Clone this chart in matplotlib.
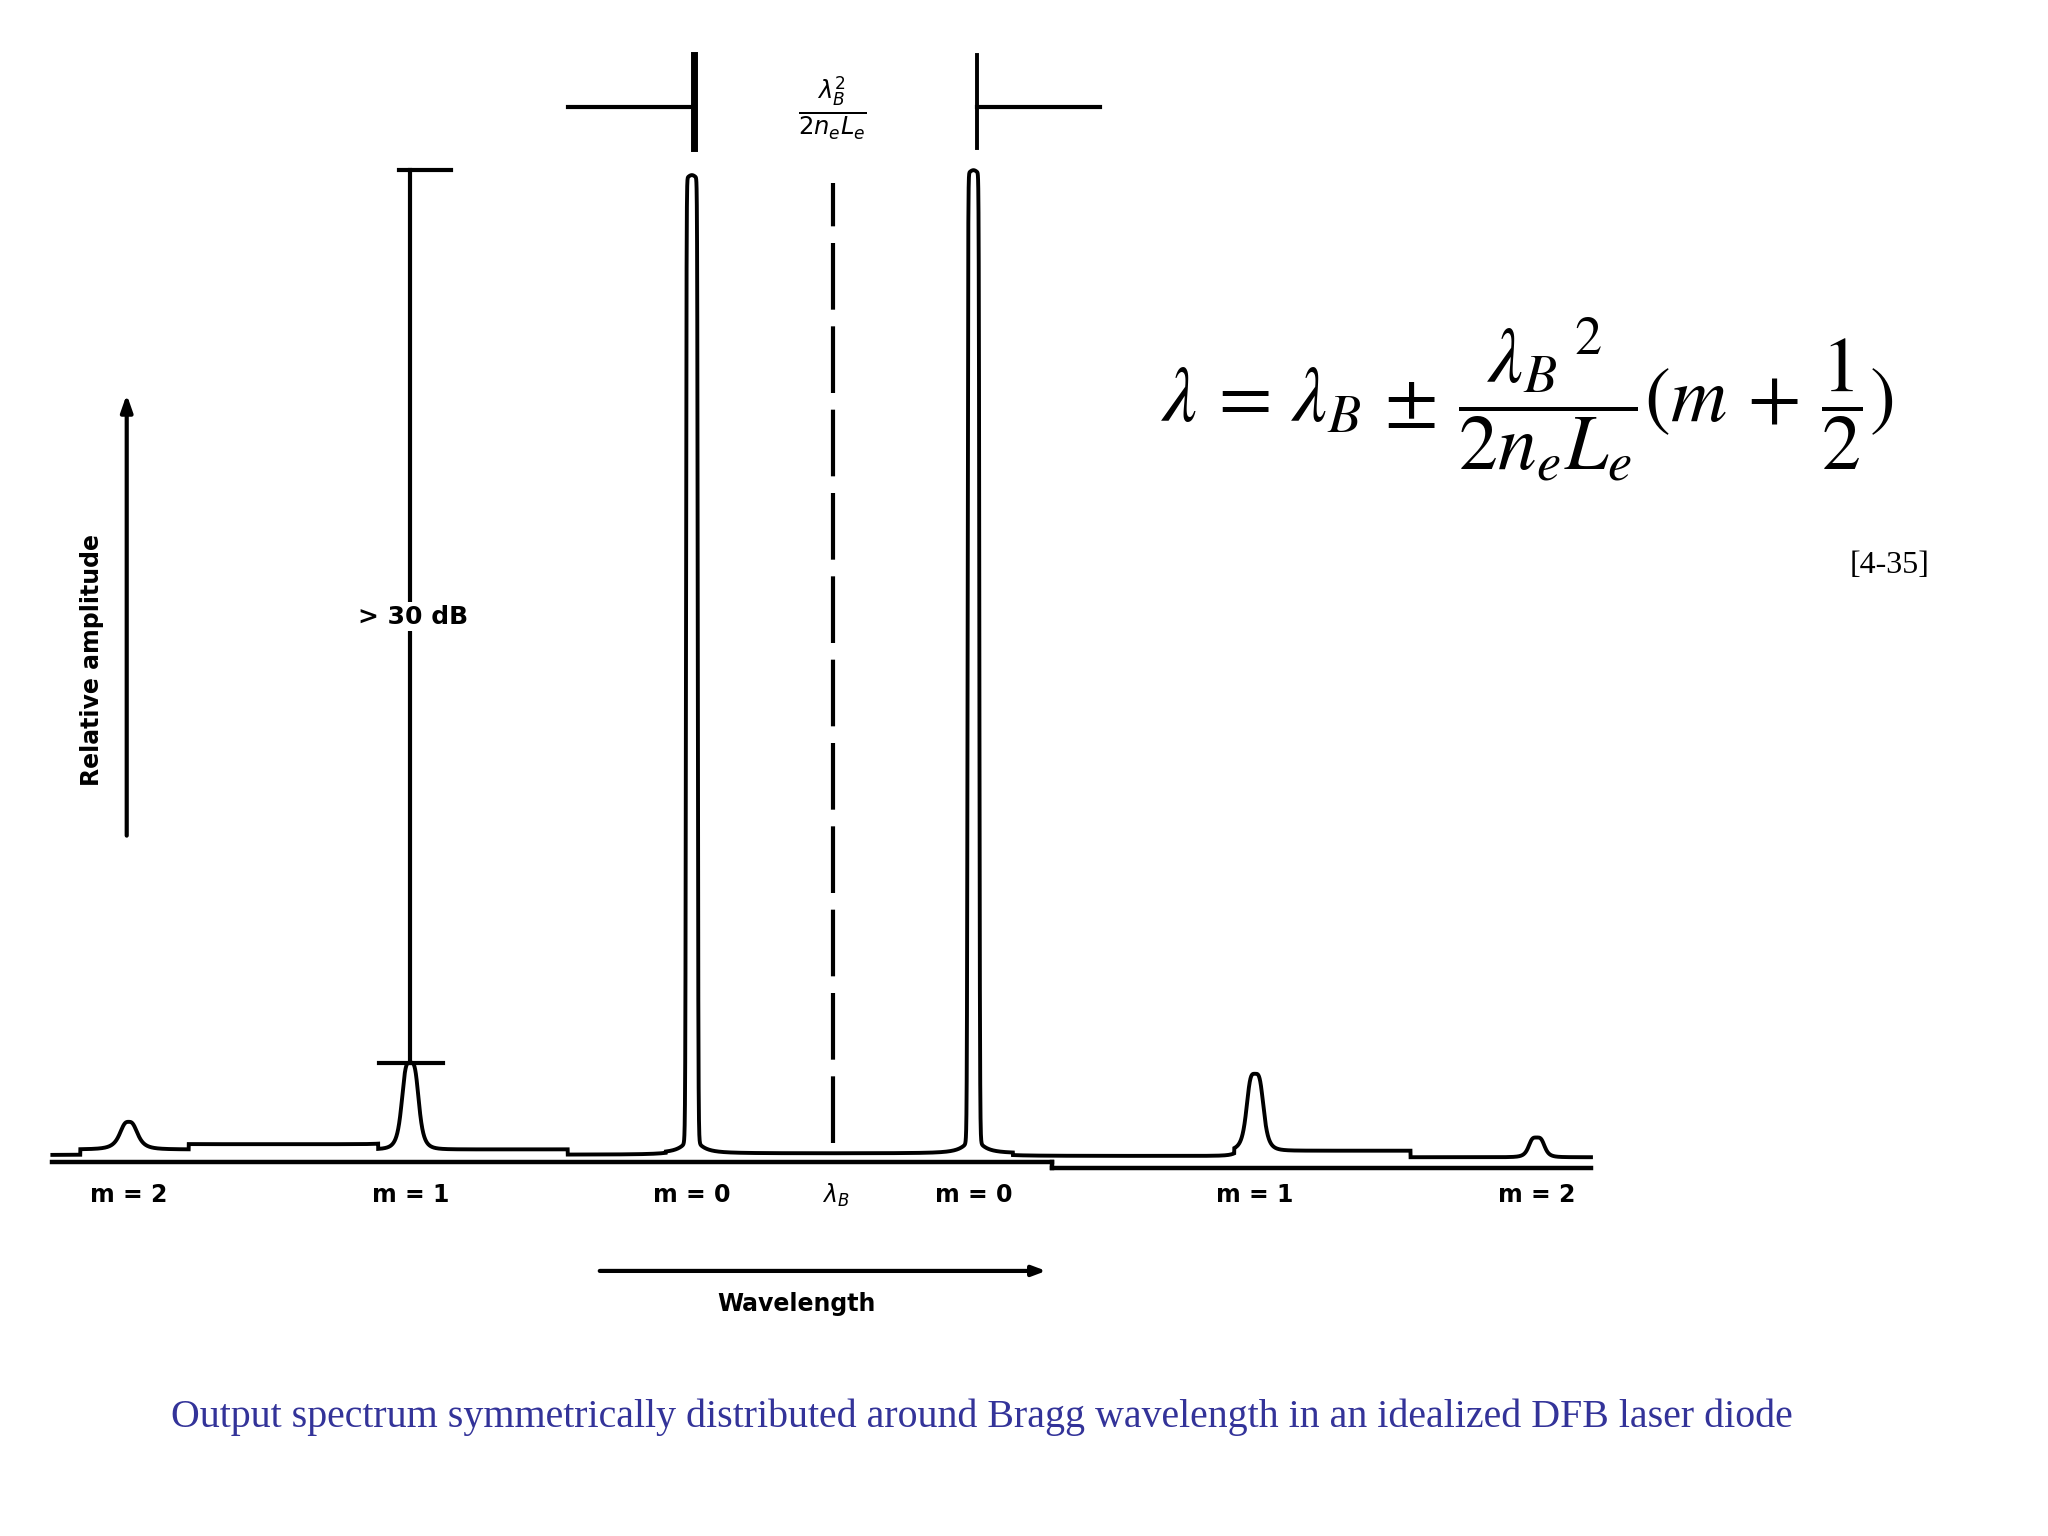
import numpy as np
import matplotlib
matplotlib.use("Agg")
import matplotlib.pyplot as plt

# ---------------- data ----------------
# wavelength axis in units of lambda_B^2/(2 n_e L_e), centred on lambda_B
mode_labels = ["m = 2", "m = 1", "m = 0", "m = 0", "m = 1", "m = 2"]
mode_pos = [-2.5, -1.5, -0.5, 0.5, 1.5, 2.5]          # +/-(m + 1/2)
mode_height = [0.028, 0.088, 0.977, 0.982, 0.078, 0.020]  # relative amplitude
mode_width = [0.035, 0.032, 0.021, 0.021, 0.032, 0.030]
mode_sharp = [3, 4, 20, 20, 4, 4]
foot_height = [0.0, 0.0, 0.015, 0.015, 0.0, 0.0]
foot_width = [0.035, 0.035, 0.035, 0.035, 0.035, 0.035]

# baseline level of the trace (segment edges and levels)
base_edges = [-2.771, -2.672, -2.287, -1.614, -0.941, -0.593, 0.640, 1.426, 2.052, 2.693]
base_levels = [0.001, 0.0066, 0.0119, 0.0066, 0.0013, 0.0026, 0.0, 0.0053, -0.0013]

bragg_label = r"$\lambda_B$"
caption = ("Output spectrum symmetrically distributed around Bragg wavelength "
           "in an idealized DFB laser diode")
formula = (r"$\lambda\,=\,\lambda_B\,\pm\,\dfrac{{\lambda_B}^{\ 2}}{2n_eL_e}"
           r"(m\,+\,\dfrac{1}{2})$")
ref_tag = "[4-35]"
spacing_label = r"$\frac{\lambda_B^2}{2n_eL_e}$"

# ---------------- figure ----------------
fig = plt.figure(figsize=(20.48, 15.36), dpi=100)
ax = fig.add_axes([0, 0, 1, 1])
ax.set_xlim(-2.957, 4.316)
ax.set_ylim(-0.3854, 1.1722)
ax.axis("off")

x = np.linspace(base_edges[0], base_edges[-1], 40001)
idx = np.clip(np.searchsorted(base_edges, x, side="right") - 1, 0, len(base_levels) - 1)
y = np.array(base_levels)[idx]
for c, h, w, p, fh, fw in zip(mode_pos, mode_height, mode_width, mode_sharp,
                              foot_height, foot_width):
    y = y + h / (1 + np.abs((x - c) / w) ** p) + fh / (1 + ((x - c) / fw) ** 2)
ax.plot(x, y, color="black", lw=2.8, solid_joinstyle="miter")

# axis line under the trace (with the step of the original scan)
ax.plot([base_edges[0], 0.78], [-0.006, -0.006], color="black", lw=3.2)
ax.plot([0.78, 0.78], [-0.006, -0.012], color="black", lw=3.2)
ax.plot([0.78, base_edges[-1]], [-0.012, -0.012], color="black", lw=3.2)

# Bragg wavelength dashed line
ax.plot([0, 0], [0.013, 0.987], color="black", lw=3, dashes=(16, 4))

# mode labels
lab_kw = dict(ha="center", va="center", fontsize=17, fontweight="bold",
              family="DejaVu Sans")
for lab, c in zip(mode_labels, mode_pos):
    ax.text(c, -0.040, lab, **lab_kw)
ax.text(0.01, -0.040, bragg_label, **lab_kw)

# spacing annotation on top
top_y = 1.0636
ax.plot([-0.939, -0.5], [top_y, top_y], color="black", lw=3)
ax.plot([-0.494, -0.494], [1.0225, 1.1166], color="black", lw=5)
ax.plot([0.5125, 0.5125], [1.0225, 1.1166], color="black", lw=2.8)
ax.plot([0.5125, 0.949], [top_y, top_y], color="black", lw=3)
ax.text(0.0, top_y, spacing_label, ha="center", va="center",
        fontsize=25, fontweight="bold")

# > 30 dB annotation
x30 = mode_pos[1]
top_cap = 1.0
low_cap = mode_height[1] + base_levels[3]
ax.plot([x30, x30], [low_cap, top_cap], color="black", lw=3)
ax.plot([x30 - 0.04, x30 + 0.145], [top_cap, top_cap], color="black", lw=3)
ax.plot([x30 - 0.11, x30 + 0.115], [low_cap, low_cap], color="black", lw=3)
ax.text(x30 + 0.01, 0.547, "> 30 dB", ha="center", va="center", fontsize=18,
        fontweight="bold", bbox=dict(facecolor="white", edgecolor="none", pad=2))

# relative amplitude arrow
ax.annotate("", xy=(-2.507, 0.775), xytext=(-2.507, 0.322),
            arrowprops=dict(arrowstyle="-|>,head_length=1.0,head_width=0.35",
                            color="black", lw=3))
ax.text(-2.632, 0.503, "Relative amplitude", rotation=90, ha="center", va="center",
        fontsize=17, fontweight="bold")

# wavelength arrow
ax.annotate("", xy=(0.768, -0.1166), xytext=(-0.837, -0.1166),
            arrowprops=dict(arrowstyle="-|>,head_length=0.8,head_width=0.3",
                            color="black", lw=3))
ax.text(-0.128, -0.150, "Wavelength", ha="center", va="center", fontsize=17,
        fontweight="bold")

# formula and tag
fig.text(0.746, 0.740, formula, ha="center", va="center", fontsize=56,
         math_fontfamily="stix")
fig.text(0.9228, 0.6318, ref_tag, ha="center", va="center", fontsize=23,
         family="Liberation Serif")

# caption
fig.text(0.4796, 0.0774, caption, ha="center", va="center", fontsize=28.7,
         family="Liberation Serif", color="#333399")

fig.savefig("out.png", dpi=100, facecolor="white")
